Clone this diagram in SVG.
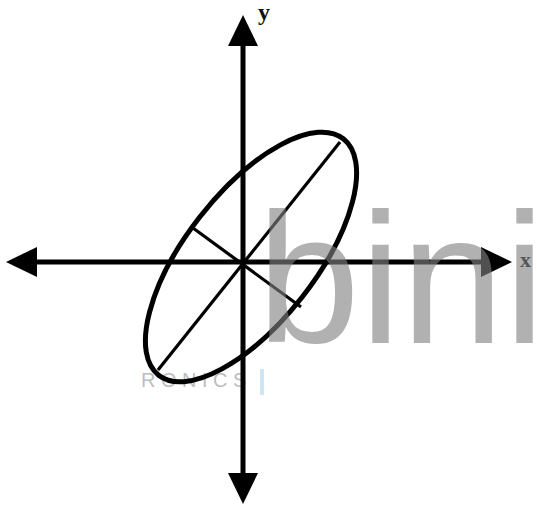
<svg xmlns="http://www.w3.org/2000/svg" width="537" height="508" viewBox="0 0 537 508">
  <style>
    .axis { stroke: #000; stroke-width: 5; fill: none; }
    .curve { stroke: #000; stroke-width: 5; fill: none; }
    .inner { stroke: #000; stroke-width: 3.2; fill: none; }
    .lbl { font-family: "Liberation Serif", "Times New Roman", serif; font-weight: bold; fill: #111; }
    .wm { font-family: "Liberation Sans", Arial, sans-serif; font-size: 185px; fill: #818181; fill-opacity: 0.62; }
    .faint { font-family: "Liberation Sans", Arial, sans-serif; font-size: 20px; fill: #bdbdbd; letter-spacing: 5.5px; }
  </style>
  <defs>
    <marker id="arrow" viewBox="0 0 31 30" markerWidth="31" markerHeight="30" refX="0" refY="15" markerUnits="userSpaceOnUse" orient="auto-start-reverse">
      <path d="M0,0 L31,15 L0,30 Z" fill="#000"/>
    </marker>
  </defs>
  <rect width="537" height="508" fill="#fff"/>

  <g id="watermark-faint">
    <text class="faint" x="141" y="387">RONICS</text>
    <rect x="260" y="369" width="4" height="26" fill="#cfe6f2"/>
  </g>

  <g id="connectors">
    <line class="axis" x1="37" y1="262" x2="481" y2="262" marker-start="url(#arrow)" marker-end="url(#arrow)"/>
    <line class="axis" x1="243" y1="46" x2="243" y2="473" marker-start="url(#arrow)" marker-end="url(#arrow)"/>
  </g>

  <g id="ellipse">
    <ellipse class="curve" cx="251" cy="257" rx="150" ry="65" transform="rotate(-52 251 257)"/>
    <line class="inner" x1="340" y1="142" x2="158" y2="370"/>
    <line class="inner" x1="193" y1="228" x2="301" y2="307"/>
  </g>

  <g id="label-y">
    <text class="lbl" x="258" y="20" font-size="24">y</text>
  </g>
  <g id="label-x">
    <text class="lbl" x="520" y="267" font-size="22">x</text>
  </g>

  <g id="watermark">
    <text class="wm" x="257" y="343">bini</text>
  </g>
</svg>
